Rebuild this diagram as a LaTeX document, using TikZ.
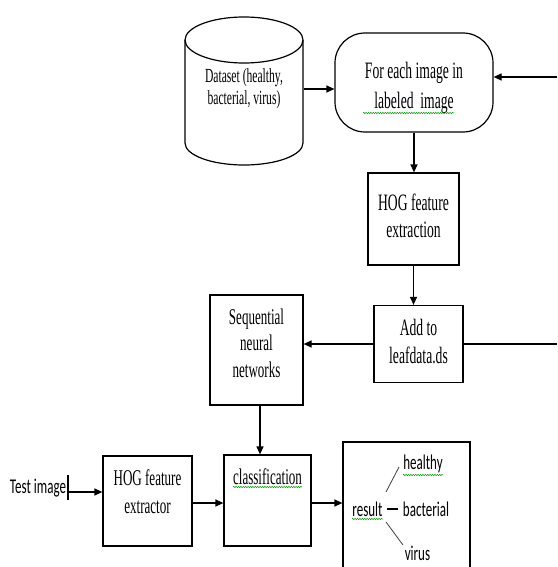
\documentclass[tikz,border=0pt]{standalone}
\usepackage{fontspec}
\usetikzlibrary{arrows.meta,decorations.pathmorphing}
\newfontfamily\serifnarrow[FakeStretch=0.58]{Liberation Serif}
\newfontfamily\sansnarrow[FakeStretch=0.62]{Carlito}

\begin{document}
\begin{tikzpicture}[x=1pt,y=-1pt,
  line width=1.2pt,
  box/.style={draw, line width=1.2pt, inner sep=0pt},
  arr/.style={-{Triangle[length=8pt,width=7pt]}, line width=1.2pt},
  lbl/.style={align=center, inner sep=0pt},
  slbl/.style={font=\sansnarrow\fontsize{21}{25}\selectfont, inner sep=0pt},
  squig/.style={draw=green!60!black, line width=0.5pt,
    decorate, decoration={snake, amplitude=0.7pt, segment length=2.4pt}},
  branch/.style={line width=0.8pt, draw=black!75}]

\useasboundingbox (0,0) rectangle (557,567);
\clip (0,0) rectangle (557,567);
\fill[white] (0,0) rectangle (557,567);

% dataset cylinder
\draw (185,40) -- (185,143) arc[start angle=180, end angle=0, x radius=59, y radius=22] -- (303,40);
\draw (244,40) ellipse[x radius=59, y radius=23];
\node[lbl, minimum width=118, minimum height=148, font=\serifnarrow\fontsize{20}{22}\selectfont] (data) at (244,89) {Dataset (healthy,\\bacterial, virus)};

% loop over the labeled images
\node[box, rounded corners=30pt, minimum width=158, minimum height=99] (each) at (414,82.5) {};
\node[lbl, font=\serifnarrow\fontsize{23.5}{30}\selectfont] (eachtxt) at (414,88) {For each image in\\labeled\ \ image};
\draw[squig] (363,113) -- (454,113);

% training branch
\node[box, minimum width=91, minimum height=92] (hog1) at (413.5,219)
  {\serifnarrow\fontsize{23.5}{27}\selectfont\begin{tabular}{@{}c@{}}HOG feature\\extraction\end{tabular}};
\node[box, minimum width=89, minimum height=77] (add) at (418.5,344)
  {\serifnarrow\fontsize{23.5}{28}\selectfont\begin{tabular}{@{}c@{}}Add to\\leafdata.ds\end{tabular}};
\node[box, minimum width=93, minimum height=110] (seq) at (256.5,350) {};
\node[lbl, font=\serifnarrow\fontsize{22.5}{26.5}\selectfont] (seqtxt) at (256.5,343) {Sequential\\neural\\networks};

% test branch
\node[slbl] (test) at (38,488) {Test image};
\coordinate (bar) at (68,492);
\draw (68,475) -- (68,500);
\node[box, minimum width=89, minimum height=90] (hog2) at (147.5,501) {};
\node[lbl, font=\serifnarrow\fontsize{22.5}{28}\selectfont] (hog2txt) at (147.5,492) {HOG feature\\extractor};
\node[box, minimum width=87, minimum height=91] (cls) at (267.5,500.5) {};
\node[lbl, font=\serifnarrow\fontsize{22.5}{25}\selectfont] (clstxt) at (267.5,477) {classification};
\draw[squig] (233,487) -- (302,487);

% result box with the three classes
\node[box, minimum width=127, minimum height=156] (res) at (406.5,520) {};
\node[slbl] (result) at (367.5,509) {result};
\draw[squig] (352,519) -- (383,519);
\node[slbl] (healthy) at (423,464) {healthy};
\draw[squig] (403,475) -- (443,475);
\node[slbl] (bacterial) at (426,509) {bacterial};
\node[slbl] (virus) at (417.5,553) {virus};
\coordinate (b1a) at (386,492); \coordinate (b1b) at (399,467);
\coordinate (b2a) at (387,509); \coordinate (b2b) at (398,509);
\coordinate (b3a) at (386,522); \coordinate (b3b) at (403,545);
\draw[branch] (b1a) -- (b1b);
\draw (b2a) -- (b2b);
\draw[branch] (b3a) -- (b3b);

% connectors
\coordinate (fbin) at (557,77);
\coordinate (fbout) at (557,344);
\draw[arr] (data.east) -- (data.east -| each.west);
\draw[arr] (fbin) -- (fbin -| each.east);
\draw[arr] (each.south) -- (each.south |- hog1.north);
\draw[arr] (hog1.south) -- (hog1.south |- add.north);
\draw[arr] (add.west) -- (add.west -| seq.east);
\draw (add.east) -- (fbout);
\draw[arr] ([xshift=3.5pt]seq.south) -- ([xshift=3.5pt]seq.south |- cls.north);
\draw[arr] (bar) -- (bar -| hog2.west);
\draw[arr] ([yshift=-2pt]hog2.east) -- ([yshift=-2pt]hog2.east -| cls.west);
\draw[arr] ([yshift=-2.5pt]cls.east) -- ([yshift=-2.5pt]cls.east -| res.west);
\end{tikzpicture}
\end{document}
